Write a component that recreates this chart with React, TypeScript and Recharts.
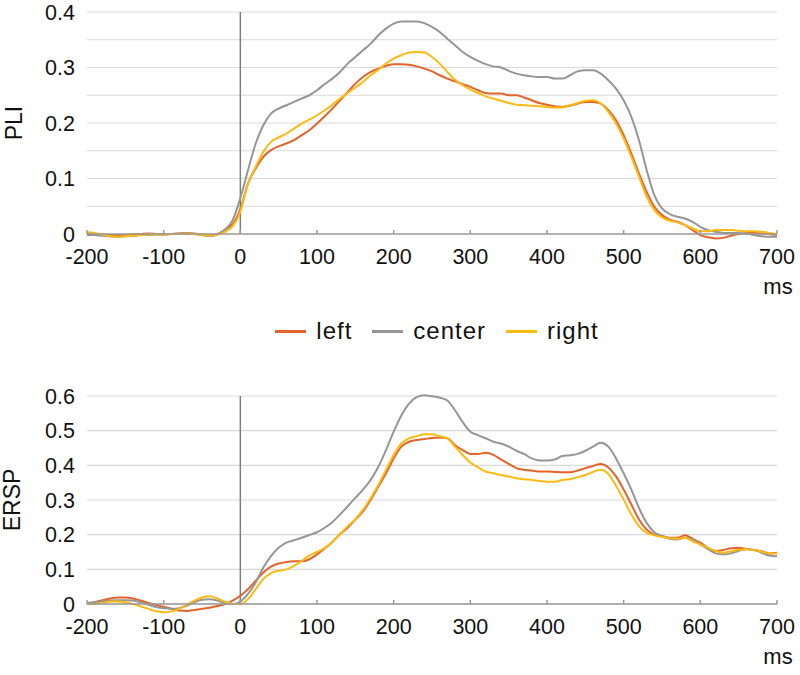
import React from "react";
import { LineChart, Line, XAxis, YAxis, CartesianGrid, ReferenceLine, Legend } from "recharts";

// time axis, ms after stimulus
const times = [
  -200, -190, -180, -170, -160, -150, -140, -130, -120, -110,
  -100, -90, -80, -70, -60, -50, -40, -30, -20, -10,
  0, 10, 20, 30, 40, 50, 60, 70, 80, 90, 100,
  110, 120, 130, 140, 150, 160, 170, 180, 190, 200,
  210, 220, 230, 240, 250, 260, 270, 280, 290, 300,
  310, 320, 330, 340, 350, 360, 370, 380, 390, 400,
  410, 420, 430, 440, 450, 460, 470, 480, 490, 500,
  510, 520, 530, 540, 550, 560, 570, 580, 590, 600,
  610, 620, 630, 640, 650, 660, 670, 680, 690, 700,
];

const pliLeft = [
  -0.002, -0.002, -0.001, -0.002, -0.002, -0.002, -0.001, 0, 0.001, 0,
  -0.001, 0, 0.001, 0.002, 0.001, -0.001, -0.002, 0, 0.008, 0.018,
  0.045, 0.091, 0.118, 0.139, 0.151, 0.158, 0.163, 0.169, 0.178, 0.187, 0.199,
  0.212, 0.226, 0.241, 0.256, 0.271, 0.283, 0.292, 0.298, 0.303, 0.306,
  0.306, 0.305, 0.302, 0.298, 0.293, 0.286, 0.28, 0.275, 0.27, 0.265,
  0.259, 0.254, 0.253, 0.253, 0.25, 0.25, 0.246, 0.241, 0.236, 0.233,
  0.23, 0.229, 0.231, 0.235, 0.238, 0.238, 0.235, 0.223, 0.205, 0.178,
  0.145, 0.109, 0.076, 0.049, 0.034, 0.026, 0.022, 0.016, 0.007, -0.002,
  -0.006, -0.008, -0.007, -0.003, 0, 0.002, 0.002, 0.001, 0, -0.002,
];

const pliCenter = [
  0, -0.002, -0.003, -0.004, -0.005, -0.004, -0.003, -0.002, -0.002, -0.001,
  0, 0, 0.001, 0.001, 0, -0.002, -0.004, -0.001, 0.008, 0.025,
  0.065, 0.115, 0.163, 0.196, 0.217, 0.226, 0.232, 0.238, 0.244, 0.25, 0.259,
  0.27, 0.28, 0.292, 0.307, 0.319, 0.331, 0.343, 0.358, 0.37, 0.379,
  0.383, 0.383, 0.383, 0.38, 0.373, 0.364, 0.352, 0.34, 0.328, 0.319,
  0.312, 0.306, 0.302, 0.3, 0.294, 0.289, 0.286, 0.284, 0.283, 0.283,
  0.28, 0.28, 0.286, 0.293, 0.295, 0.295, 0.289, 0.277, 0.262, 0.241,
  0.211, 0.169, 0.115, 0.07, 0.046, 0.036, 0.031, 0.028, 0.022, 0.013,
  0.007, 0.004, 0.002, 0.002, 0.002, 0.001, -0.002, -0.004, -0.005, -0.005,
];

const pliRight = [
  0.003, 0.002, -0.001, -0.004, -0.005, -0.004, -0.003, -0.002, -0.001, -0.001,
  -0.001, 0, 0, 0.001, 0, -0.002, -0.003, -0.001, 0.004, 0.014,
  0.04, 0.091, 0.121, 0.148, 0.166, 0.174, 0.181, 0.19, 0.199, 0.206, 0.214,
  0.223, 0.233, 0.244, 0.254, 0.264, 0.274, 0.286, 0.296, 0.307, 0.316,
  0.322, 0.327, 0.328, 0.327, 0.319, 0.307, 0.292, 0.278, 0.268, 0.26,
  0.254, 0.248, 0.244, 0.24, 0.236, 0.233, 0.232, 0.231, 0.23, 0.229,
  0.228, 0.228, 0.232, 0.236, 0.24, 0.241, 0.235, 0.22, 0.199, 0.172,
  0.139, 0.103, 0.067, 0.043, 0.03, 0.024, 0.021, 0.016, 0.01, 0.005,
  0.005, 0.007, 0.007, 0.007, 0.006, 0.005, 0.005, 0.004, 0.002, 0,
];

const erspLeft = [
  0, 0.005, 0.011, 0.016, 0.019, 0.019, 0.016, 0.01, 0.003, -0.003,
  -0.008, -0.014, -0.019, -0.02, -0.017, -0.014, -0.011, -0.006, 0, 0.01,
  0.024, 0.043, 0.067, 0.091, 0.108, 0.117, 0.121, 0.123, 0.123, 0.129, 0.143,
  0.16, 0.179, 0.201, 0.22, 0.244, 0.267, 0.301, 0.339, 0.377, 0.42,
  0.454, 0.468, 0.473, 0.476, 0.479, 0.48, 0.478, 0.458, 0.444, 0.433,
  0.433, 0.436, 0.43, 0.417, 0.404, 0.392, 0.387, 0.385, 0.382, 0.382,
  0.381, 0.38, 0.38, 0.385, 0.392, 0.398, 0.404, 0.394, 0.368, 0.33,
  0.287, 0.244, 0.215, 0.2, 0.196, 0.191, 0.191, 0.198, 0.188, 0.177,
  0.162, 0.153, 0.156, 0.161, 0.162, 0.159, 0.156, 0.152, 0.146, 0.148,
];

const erspCenter = [
  0.003, 0.005, 0.007, 0.01, 0.011, 0.011, 0.01, 0.005, -0.002, -0.009,
  -0.012, -0.014, -0.012, -0.005, 0.005, 0.012, 0.014, 0.01, 0.003, 0,
  0.007, 0.029, 0.062, 0.105, 0.138, 0.162, 0.177, 0.184, 0.191, 0.199, 0.207,
  0.22, 0.236, 0.258, 0.282, 0.306, 0.33, 0.358, 0.396, 0.444, 0.497,
  0.544, 0.578, 0.597, 0.602, 0.599, 0.595, 0.587, 0.559, 0.525, 0.497,
  0.487, 0.478, 0.468, 0.463, 0.454, 0.442, 0.433, 0.42, 0.414, 0.414,
  0.417, 0.427, 0.429, 0.433, 0.442, 0.454, 0.465, 0.454, 0.42, 0.377,
  0.33, 0.277, 0.234, 0.207, 0.196, 0.188, 0.186, 0.191, 0.186, 0.172,
  0.158, 0.146, 0.143, 0.146, 0.153, 0.158, 0.156, 0.148, 0.14, 0.138,
];

const erspRight = [
  0, 0, 0.003, 0.007, 0.007, 0.005, 0, -0.007, -0.014, -0.021,
  -0.024, -0.022, -0.014, -0.002, 0.01, 0.019, 0.022, 0.016, 0.007, 0,
  0, 0.014, 0.043, 0.072, 0.089, 0.096, 0.1, 0.11, 0.124, 0.14, 0.15,
  0.162, 0.179, 0.201, 0.224, 0.245, 0.272, 0.306, 0.344, 0.387, 0.43,
  0.463, 0.478, 0.484, 0.49, 0.49, 0.484, 0.478, 0.454, 0.43, 0.408,
  0.394, 0.382, 0.377, 0.372, 0.368, 0.363, 0.36, 0.358, 0.355, 0.353,
  0.353, 0.358, 0.36, 0.366, 0.372, 0.381, 0.387, 0.375, 0.341, 0.301,
  0.258, 0.224, 0.205, 0.198, 0.193, 0.19, 0.188, 0.191, 0.181, 0.172,
  0.162, 0.153, 0.148, 0.152, 0.156, 0.158, 0.156, 0.151, 0.146, 0.146,
];

const seriesOrder = ["left", "center", "right"];
const timeTicks = [-200, -100, 0, 100, 200, 300, 400, 500, 600, 700];
const pliTicks = [0, 0.1, 0.2, 0.3, 0.4];
const pliGrid = [0.05, 0.1, 0.15, 0.2, 0.25, 0.3, 0.35, 0.4];
const erspTicks = [0, 0.1, 0.2, 0.3, 0.4, 0.5, 0.6];

const FONT = '"Liberation Sans", Arial, sans-serif';
const COLORS: Record<string, string> = { left: "#E4632B", center: "#969696", right: "#FDBA12" };

const pliData = times.map((t, i) => ({ t, left: pliLeft[i], center: pliCenter[i], right: pliRight[i] }));
const erspData = times.map((t, i) => ({ t, left: erspLeft[i], center: erspCenter[i], right: erspRight[i] }));

// eslint-disable-next-line @typescript-eslint/no-explicit-any
function renderLegend(props: any) {
  const { payload } = props as { payload?: Array<{ value: string; color: string }> };
  if (!payload) return null;
  const items = [...payload].sort((a, b) => seriesOrder.indexOf(a.value) - seriesOrder.indexOf(b.value));
  return (
    <div
      style={{
        display: "flex",
        justifyContent: "center",
        alignItems: "center",
        fontFamily: FONT,
        fontSize: 24,
        letterSpacing: 1,
        color: "#111",
      }}
    >
      {items.map((entry, index) => (
        <div key={index} style={{ display: "flex", alignItems: "center", marginRight: index < items.length - 1 ? 20 : 0 }}>
          <span style={{ display: "inline-block", width: 31, height: 3, background: entry.color, marginRight: 10 }} />
          {entry.value}
        </div>
      ))}
    </div>
  );
}

function MsLabel(props: any) {
  const { x, y, width } = props.viewBox;
  return (
    <text x={x + width + 1} y={y + 60} textAnchor="middle" fontFamily={FONT} fontSize={22} fill="#111">
      ms
    </text>
  );
}

function yLabel(text: string, lx: number) {
  return function YLabel(props: any) {
    const { y, height } = props.viewBox;
    const cy = y + height / 2;
    return (
      <text x={lx} y={cy} textAnchor="middle" transform={`rotate(-90, ${lx}, ${cy})`} fontFamily={FONT} fontSize={23} fill="#111">
        {text}
      </text>
    );
  };
}

interface PanelProps {
  data: Array<Record<string, number>>;
  yTicks: number[];
  grid: number[];
  yMax: number;
  label: string;
  labelX: number;
  height: number;
  marginTop: number;
  marginBottom: number;
  withLegend?: boolean;
}

function Panel({ data, yTicks, grid, yMax, label, labelX, height, marginTop, marginBottom, withLegend }: PanelProps) {
  const tick = { fontFamily: FONT, fontSize: 21.5, fill: "#111" };
  return (
    <LineChart width={800} height={height} data={data} margin={{ top: marginTop, right: 23, left: 0, bottom: marginBottom }}>
      <CartesianGrid vertical={false} horizontalValues={grid} stroke="#D9D9D9" strokeWidth={1.2} />
      <XAxis
        dataKey="t"
        type="number"
        domain={[-200, 700]}
        ticks={timeTicks}
        stroke="#9A9A9A"
        strokeWidth={1.5}
        tickSize={-4}
        tickMargin={19}
        tick={tick}
        height={30}
        label={<MsLabel />}
      />
      <YAxis
        type="number"
        domain={[0, yMax]}
        ticks={yTicks}
        allowDataOverflow
        width={87}
        axisLine={false}
        tickLine={false}
        tickSize={0}
        tickMargin={12}
        tick={tick}
        label={React.createElement(yLabel(label, labelX))}
      />
      <ReferenceLine x={0} stroke="#7F7F7F" strokeWidth={1.5} />
      {seriesOrder.map((key) => (
        <Line key={key} type="monotone" dataKey={key} name={key} stroke={COLORS[key]} strokeWidth={2} dot={false} isAnimationActive={false} />
      ))}
      {withLegend && (
        <Legend
          verticalAlign="middle"
          align="center"
          content={renderLegend}
          wrapperStyle={{ top: 317, left: 87, width: 700, height: 30 }}
        />
      )}
    </LineChart>
  );
}

export default function App() {
  return (
    <div style={{ position: "absolute", left: 0, top: 0, width: 800, height: 675, background: "#fff" }}>
      <style>{`.recharts-wrapper [clip-path] { clip-path: none !important; }`}</style>
      <div style={{ position: "absolute", left: 0, top: 0 }}>
        <Panel data={pliData} yTicks={pliTicks} grid={pliGrid} yMax={0.4} label="PLI" labelX={22} height={360} marginTop={12} marginBottom={96} withLegend />
      </div>
      <div style={{ position: "absolute", left: 0, top: 360 }}>
        <Panel data={erspData} yTicks={erspTicks} grid={erspTicks} yMax={0.6} label="ERSP" labelX={20} height={315} marginTop={36} marginBottom={41} />
      </div>
    </div>
  );
}
